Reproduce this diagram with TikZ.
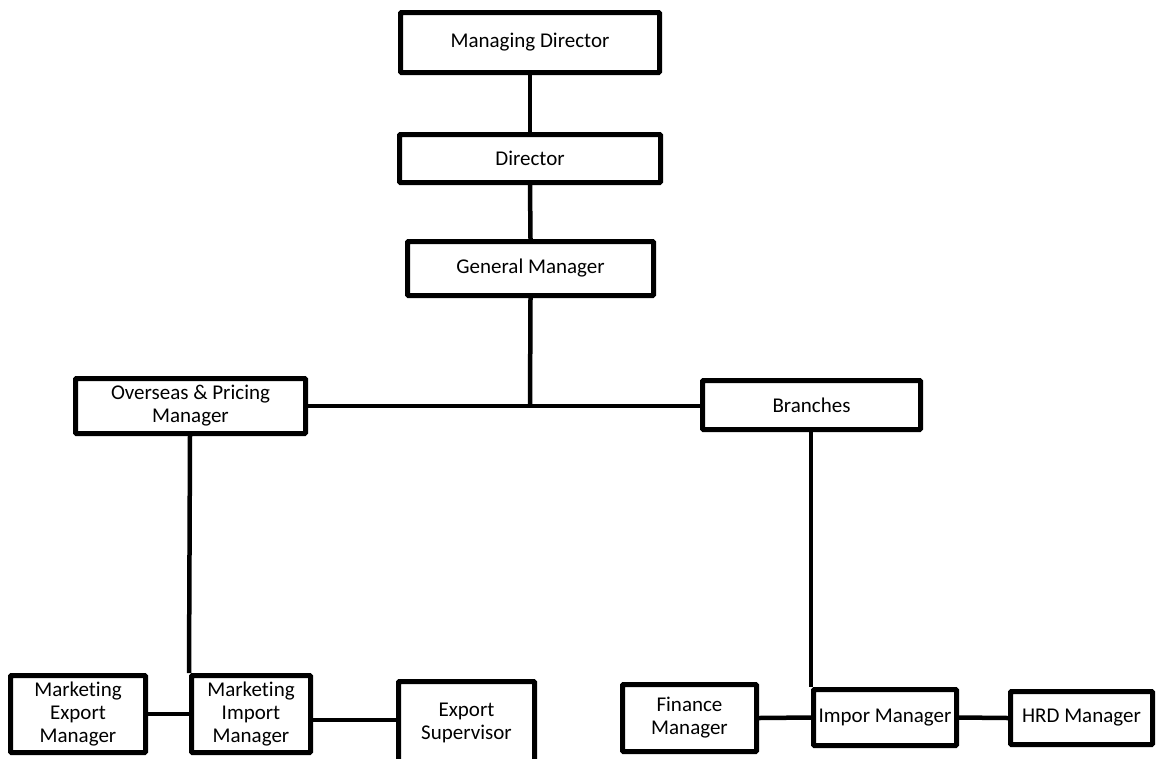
\documentclass[tikz,border=0pt]{standalone}
\usepackage{fontspec}
\setmainfont{Carlito}[Ligatures=NoCommon]
\begin{document}
\begin{tikzpicture}[x=1pt,y=-1pt,
  box/.style={draw=black, line width=5pt, rounded corners=1pt, fill=white, align=center,
    inner sep=0pt, font=\fontsize{21}{23}\selectfont},
  link/.style={line width=4.5pt}]
\useasboundingbox[fill=white] (0,0) rectangle (1158,758);
\begin{scope}
\clip (0,0) rectangle (1158,758);
\node[box, minimum width=259pt, minimum height=60pt] (md) at (530,42.5) {Managing Director};
\node[box, minimum width=261pt, minimum height=48pt] (dir) at (530,158.5) {Director};
\node[box, minimum width=246pt, minimum height=54pt] (gm) at (530.5,268.5) {General Manager};
\node[box, minimum width=230pt, minimum height=55pt] (opm) at (190.5,406) {Overseas \& Pricing\\Manager};
\node[box, minimum width=218pt, minimum height=49pt] (br) at (811.5,405) {Branches};
\node[box, minimum width=135pt, minimum height=77pt] (mem) at (78,714) {Marketing\\Export\\Manager};
\node[box, minimum width=119pt, minimum height=77pt] (mim) at (251,714) {Marketing\\Import\\Manager};
\node[box, minimum width=136pt, minimum height=82pt] (es) at (466.5,722.5) {Export\\Supervisor};
\node[box, minimum width=134pt, minimum height=67pt] (fin) at (689.5,718) {Finance\\Manager};
\node[box, minimum width=143pt, minimum height=56pt] (imp) at (885,717.5) {Impor Manager};
\node[box, minimum width=142pt, minimum height=53pt] (hrd) at (1081.5,718) {HRD Manager};
\coordinate (j) at (530,406);
\coordinate (m1) at ([yshift=-6pt]mim.east);
\draw[link] (md.south) -- (dir.north);
\draw[link] (dir.south) -- (gm.north);
\draw[link] (gm.south) -- (j);
\draw[link] (opm.east) -- (j);
\draw[link] (j) -- (br.west |- j);
\draw[link] ([xshift=-0.5pt]opm.south) -- (mim.north west);
\draw[link] ([xshift=-0.5pt]br.south) -- (imp.north west);
\draw[link] (mem.east) -- (mim.west);
\draw[link] (m1) -- (es.west |- m1);
\draw[link] (fin.east) -- (imp.west);
\draw[link] (imp.east) -- (hrd.west);
\end{scope}
\end{tikzpicture}
\end{document}
